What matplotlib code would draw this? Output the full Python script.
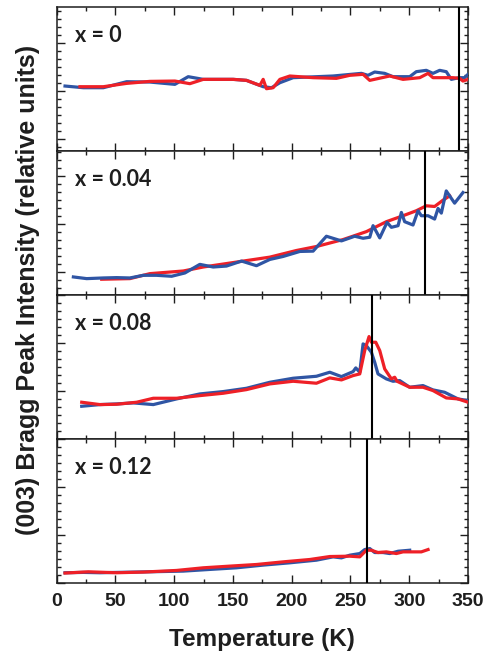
import matplotlib
matplotlib.use("Agg")
import matplotlib.pyplot as plt
from matplotlib.ticker import MultipleLocator

# ---- data ----
labels = ["x = 0", "x = 0.04", "x = 0.08", "x = 0.12"]
transition_T = [342.5, 313.4, 268.0, 263.8]

# x = 0
T0_blue = [7.1, 22.7, 39.7, 59.5, 79.3, 100.6, 111.9, 124.7, 150.2, 161.5, 175.7, 182.8, 189.9,
           201.2, 235.2, 259.3, 264.9, 270.6, 279.1, 286.2, 300.4, 306.0, 314.5, 320.2, 325.9,
           331.5, 335.8, 342.3, 347.1, 350.0]
I0_blue = [1.094, 1.059, 1.059, 1.184, 1.177, 1.129, 1.289, 1.233, 1.233, 1.212, 1.080, 1.059, 1.163,
           1.268, 1.303, 1.358, 1.317, 1.386, 1.358, 1.289, 1.289, 1.393, 1.421, 1.358, 1.421,
           1.393, 1.233, 1.268, 1.268, 1.338]
T0_red = [19.8, 39.7, 59.5, 79.3, 100.6, 113.3, 124.7, 150.2, 161.5, 172.9, 175.7, 178.5, 184.2,
          189.9, 198.4, 218.2, 238.0, 249.4, 260.7, 266.4, 283.4, 294.7, 308.9, 316.0, 320.2,
          337.2, 342.9, 345.7, 350.0]
I0_red = [1.080, 1.080, 1.149, 1.191, 1.198, 1.143, 1.233, 1.233, 1.212, 1.108, 1.233, 1.038, 1.059,
          1.233, 1.303, 1.268, 1.254, 1.317, 1.338, 1.212, 1.303, 1.233, 1.268, 1.358, 1.268,
          1.268, 1.254, 1.198, 1.233]

# x = 0.04
T1_blue = [14.2, 25.5, 39.7, 51.0, 62.3, 73.7, 85.0, 97.8, 109.1, 121.8, 133.2, 144.5, 157.3, 170.0,
           181.4, 192.7, 206.9, 218.2, 229.5, 242.3, 253.6, 260.7, 266.4, 269.2, 274.9, 281.1,
           284.8, 290.5, 293.3, 296.1, 303.2, 307.5, 310.3, 316.0, 321.6, 324.5, 327.3, 331.5,
           338.6, 345.7]
I1_blue = [-0.103, -0.138, -0.124, -0.117, -0.124, -0.069, -0.069, -0.089, -0.020, 0.159, 0.104,
           0.124, 0.228, 0.131, 0.262, 0.324, 0.428, 0.435, 0.745, 0.648, 0.745, 0.703, 0.724,
           0.965, 0.710, 1.034, 0.931, 0.965, 1.241, 1.048, 0.979, 1.276, 1.172, 1.172, 1.103,
           1.324, 1.227, 1.689, 1.434, 1.655]
T1_red = [38.3, 62.3, 79.3, 107.7, 124.7, 153.0, 181.4, 204.0, 221.0, 243.7, 263.5, 280.5, 294.7,
          306.0, 314.5, 321.6, 328.7, 334.4]
I1_red = [-0.151, -0.138, -0.034, 0.021, 0.104, 0.207, 0.310, 0.448, 0.531, 0.676, 0.841, 1.048,
          1.172, 1.276, 1.379, 1.365, 1.496, 1.586]

# x = 0.08
T2_blue = [21.3, 36.8, 51.0, 65.2, 82.2, 102.0, 121.8, 141.7, 161.5, 181.4, 201.2, 221.0, 232.4,
           242.3, 252.2, 254.5, 257.9, 260.7, 263.5, 267.8, 270.6, 273.4, 280.5, 286.2, 291.9,
           300.4, 311.7, 320.2, 330.1, 341.5, 350.0]
I2_blue = [0.688, 0.723, 0.737, 0.758, 0.723, 0.841, 0.945, 0.994, 1.063, 1.188, 1.272, 1.313, 1.397,
           1.306, 1.410, 1.487, 1.397, 1.987, 1.952, 1.813, 1.605, 1.362, 1.258, 1.209, 1.223,
           1.084, 1.119, 1.029, 0.980, 0.841, 0.806]
T2_red = [21.3, 36.8, 51.0, 68.0, 82.2, 102.0, 121.8, 141.7, 161.5, 181.4, 201.2, 221.0, 232.4,
          242.3, 252.2, 257.9, 262.1, 265.8, 267.8, 271.5, 274.9, 279.1, 284.8, 287.6, 289.6,
          300.4, 311.7, 320.2, 331.5, 341.5, 350.0]
I2_red = [0.772, 0.723, 0.730, 0.772, 0.855, 0.855, 0.910, 0.959, 1.035, 1.154, 1.209, 1.168, 1.279,
          1.237, 1.327, 1.362, 1.848, 2.140, 2.022, 2.022, 1.848, 1.466, 1.258, 1.293, 1.209,
          1.084, 1.084, 1.015, 0.862, 0.841, 0.772]

# x = 0.12
T3_blue = [7.1, 22.7, 36.8, 51.0, 79.3, 107.7, 130.3, 153.0, 175.7, 198.4, 221.0, 235.2, 242.3,
           249.4, 257.9, 262.1, 266.4, 270.6, 277.7, 283.4, 290.5, 300.4]
I3_blue = [0.220, 0.227, 0.220, 0.227, 0.240, 0.254, 0.289, 0.323, 0.379, 0.427, 0.482, 0.551, 0.530,
           0.586, 0.620, 0.703, 0.724, 0.641, 0.641, 0.620, 0.668, 0.689]
T3_red = [7.1, 26.9, 51.0, 73.7, 102.0, 124.7, 147.3, 170.0, 192.7, 215.4, 232.4, 249.4, 257.9,
          263.5, 267.8, 273.4, 280.5, 289.0, 294.7, 303.2, 310.3, 316.0]
I3_red = [0.213, 0.240, 0.220, 0.234, 0.268, 0.323, 0.358, 0.392, 0.447, 0.496, 0.558, 0.565, 0.551,
          0.689, 0.689, 0.641, 0.655, 0.620, 0.655, 0.655, 0.655, 0.703]

blue_T = [T0_blue, T1_blue, T2_blue, T3_blue]
blue_I = [I0_blue, I1_blue, I2_blue, I3_blue]
red_T = [T0_red, T1_red, T2_red, T3_red]
red_I = [I0_red, I1_red, I2_red, I3_red]
ylims = [(-0.265, 2.735), (-0.485, 2.515), (0.0, 3.0), (0.0, 3.0)]

x_ticks = [0, 50, 100, 150, 200, 250, 300, 350]

BLUE = "#2F55A4"
RED = "#EE2027"
INK = "#1E1E1E"

plt.rcParams['font.family'] = ['Liberation Sans', 'DejaVu Sans']

fig = plt.figure(figsize=(4.87, 6.60), dpi=100)
gs = fig.add_gridspec(4, 1, left=0.1164, right=0.961, top=0.989, bottom=0.1162, hspace=0)
axes = [fig.add_subplot(gs[i]) for i in range(4)]

for i, ax in enumerate(axes):
    ax.plot(blue_T[i], blue_I[i], color=BLUE, lw=2.3, solid_joinstyle='round', zorder=3)
    ax.plot(red_T[i], red_I[i], color=RED, lw=2.3, solid_joinstyle='round', zorder=3 if i != 1 else 2)
    ax.axvline(transition_T[i], color='black', lw=1.5, zorder=4)
    ax.set_xlim(0, 350)
    ax.set_ylim(*ylims[i])
    ax.xaxis.set_major_locator(MultipleLocator(50))
    ax.xaxis.set_minor_locator(MultipleLocator(25))
    ax.yaxis.set_major_locator(MultipleLocator(1))
    ax.yaxis.set_minor_locator(MultipleLocator(1 / 6))
    ax.tick_params(which='both', direction='in', top=True, right=True, width=1.0, color=INK)
    ax.tick_params(which='major', length=5.5)
    ax.tick_params(which='minor', length=3.2)
    ax.set_yticklabels([])
    for s in ax.spines.values():
        s.set_linewidth(1.1)
        s.set_color(INK)
    ax.text(0.0445, 0.757, labels[i], transform=ax.transAxes, fontsize=15.5,
            fontweight='bold', family=['Lato', 'DejaVu Sans'], color=INK, va='baseline')
    if i < 3:
        ax.tick_params(labelbottom=False)

axes[-1].set_xticks(x_ticks)
axes[-1].set_xticklabels([str(t) for t in x_ticks], fontsize=14, fontweight='bold', color=INK)
axes[-1].tick_params(axis='x', pad=7)
axes[-1].set_xlabel("Temperature (K)", fontsize=17.5, fontweight='bold', color=INK, labelpad=13)

fig.text(0.058, 0.56, "(003) Bragg Peak Intensity (relative units)", rotation=90,
         fontsize=18, fontweight='bold', color=INK, ha='center', va='center')

fig.savefig("out.png", dpi=100)
